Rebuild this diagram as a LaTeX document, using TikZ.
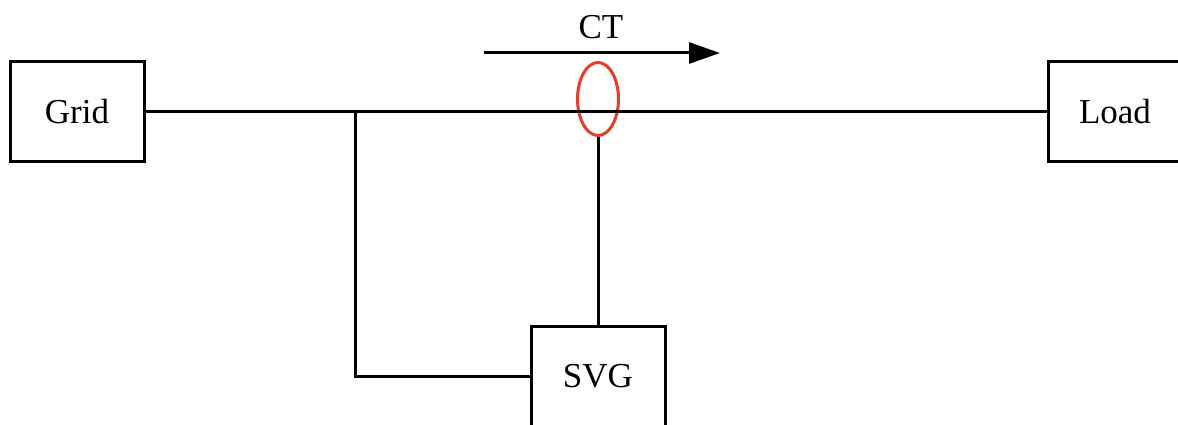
\documentclass[tikz,border=0pt]{standalone}
\usepackage{fontspec}
\setmainfont{Liberation Serif}
\usetikzlibrary{arrows.meta, positioning, shapes.geometric}
\definecolor{ctred}{RGB}{232,60,40}

\begin{document}
\begin{tikzpicture}[x=1pt, y=-1pt,
    box/.style={rectangle, draw, line width=3pt, minimum width=134pt,
                minimum height=100pt, align=center, font=\fontsize{35}{40}\selectfont, inner sep=0pt},
    wire/.style={line width=3pt},
    arr/.style={-{Triangle[length=31pt, width=21pt]}, line width=3pt},
    label/.style={font=\fontsize{35}{40}\selectfont, inner sep=0pt}
  ]
    \useasboundingbox (0,0) rectangle (1178,425);
    \node[box] (grid) at (77,111.5) {Grid};
    \node[box] (load) at (1115,111.5) {Load};
    \node[box] (svg) at (598,376.5) {SVG};
    \node[draw=ctred, ellipse, line width=3pt, minimum width=41pt, minimum height=73pt, inner sep=0pt] (ct) at (598,99) {};
    \coordinate (tee) at (355,111.5);
    \coordinate (arrl) at (484,53);
    \coordinate (arrr) at (720,53);
    \node[label] (ctlabel) at (601,27) {CT};

    \draw[wire] (grid) -- (load);
    \draw[wire] (tee) |- (svg);
    \draw[wire] (ct.south) -- (svg);
    \draw[arr] (arrl) -- (arrr);
\end{tikzpicture}
\end{document}
